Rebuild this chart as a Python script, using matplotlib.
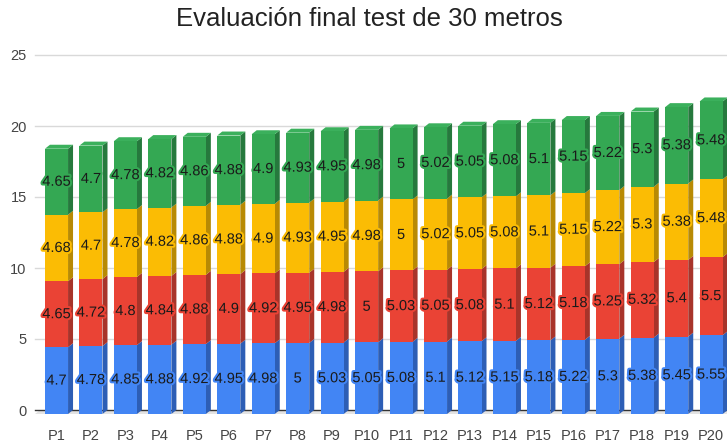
import numpy as np
import matplotlib.pyplot as plt
from matplotlib.patches import Polygon
import matplotlib.patheffects as pe

plt.rcParams['font.family'] = ['Liberation Sans', 'DejaVu Sans']

# data
labels = ['P%d' % i for i in range(1, 21)]
blue = [4.7, 4.78, 4.85, 4.88, 4.92, 4.95, 4.98, 5, 5.03, 5.05,
        5.08, 5.1, 5.12, 5.15, 5.18, 5.22, 5.3, 5.38, 5.45, 5.55]
red = [4.65, 4.72, 4.8, 4.84, 4.88, 4.9, 4.92, 4.95, 4.98, 5,
       5.03, 5.05, 5.08, 5.1, 5.12, 5.18, 5.25, 5.32, 5.4, 5.5]
yellow = [4.68, 4.7, 4.78, 4.82, 4.86, 4.88, 4.9, 4.93, 4.95, 4.98,
          5, 5.02, 5.05, 5.08, 5.1, 5.15, 5.22, 5.3, 5.38, 5.48]
green = [4.65, 4.7, 4.78, 4.82, 4.86, 4.88, 4.9, 4.93, 4.95, 4.98,
         5, 5.02, 5.05, 5.08, 5.1, 5.15, 5.22, 5.3, 5.38, 5.48]

series = [blue, red, yellow, green]
front = ['#4285F4', '#EA4335', '#FBBC04', '#34A853']
side = ['#2D5EB5', '#A8342A', '#B88A04', '#26793D']
top_col = '#3BB05C'

fig = plt.figure(figsize=(7.27, 4.43), dpi=100)
ax = fig.add_axes([35 / 727, 33 / 443, 692 / 727, 355 / 443])
ax.set_xlim(-0.624, 19.46)
ax.set_ylim(0, 25)

# fake 3d depth (data units)
dx = 0.145
dy = 0.28
w = 0.67

x = np.arange(len(labels))

for yv in [5, 10, 15, 20, 25]:
    ax.axhline(yv, color='#d9d9d9', lw=1, zorder=0, clip_on=False)

# floor
ax.add_patch(Polygon([(-0.48 - dx, -dy), (19.6, -dy), (19.6, 0), (-0.48, 0)],
                     closed=True, fc='#e3e3e3', ec='none', zorder=1, clip_on=False))
ax.axhline(0, color='#333333', lw=1, zorder=1.5, clip_on=False)

bottom = np.zeros(len(labels))
for k, vals in enumerate(series):
    vals = np.array(vals)
    for i in range(len(labels)):
        x0 = x[i] - w / 2
        x1 = x[i] + w / 2
        b0 = bottom[i] - dy
        b1 = bottom[i] + vals[i] - dy
        # side face
        ax.add_patch(Polygon([(x1, b0), (x1 + dx, b0 + dy), (x1 + dx, b1 + dy), (x1, b1)],
                             closed=True, fc=side[k], ec='none', zorder=2, clip_on=False))
        if k == len(series) - 1:
            ax.add_patch(Polygon([(x0, b1), (x0 + dx, b1 + dy), (x1 + dx, b1 + dy), (x1, b1)],
                                 closed=True, fc=top_col, ec='none', zorder=2, clip_on=False))
    ax.bar(x, vals, w, bottom=bottom - dy, color=front[k], zorder=3, clip_on=False)
    for i in range(len(labels)):
        ax.text(x[i], bottom[i] + vals[i] / 2 - dy, '%g' % vals[i], ha='center', va='center',
                fontsize=10.5, color='#1a1a1a', zorder=5,
                path_effects=[pe.withStroke(linewidth=3, foreground=front[k])])
    bottom = bottom + vals

ax.set_yticks([0, 5, 10, 15, 20, 25])
ax.set_xticks(x)
ax.set_xticklabels(labels)
ax.tick_params(axis='both', length=0, labelsize=10.5, colors='#444444')
ax.tick_params(axis='x', pad=14)
ax.tick_params(axis='y', pad=6)
for s in ax.spines.values():
    s.set_visible(False)

fig.text(369 / 727, 1 - 19 / 443, 'Evaluación final test de 30 metros', ha='center', va='center',
         fontsize=18.5, color='#222222')

fig.savefig('out.png', dpi=100)
